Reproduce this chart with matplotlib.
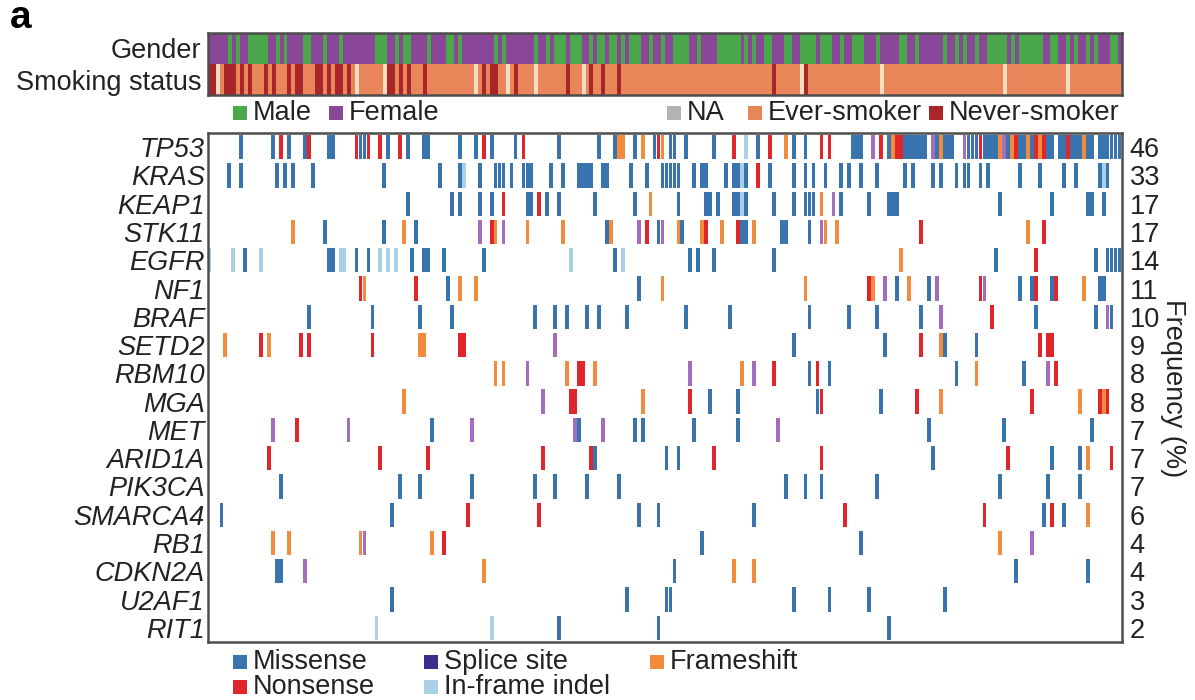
import matplotlib
matplotlib.use("Agg")
import numpy as np
import matplotlib.pyplot as plt
from matplotlib.colors import ListedColormap
from matplotlib.patches import Rectangle

plt.rcParams['font.family'] = ['Liberation Sans', 'DejaVu Sans']

# ---- data ----
n_samples = 230

genes = ['TP53', 'KRAS', 'KEAP1', 'STK11', 'EGFR', 'NF1', 'BRAF', 'SETD2', 'RBM10',
         'MGA', 'MET', 'ARID1A', 'PIK3CA', 'SMARCA4', 'RB1', 'CDKN2A', 'U2AF1', 'RIT1']
freq = [46, 33, 17, 17, 14, 11, 10, 9, 8, 8, 7, 7, 7, 6, 4, 4, 3, 2]

# clinical tracks (sample indices)
male = [5, 7, 10, 11, 12, 13, 14, 17, 19, 24, 25, 29, 33, 42, 43, 44, 47, 49, 50, 55,
        60, 61, 63, 72, 74, 82, 85, 87, 88, 89, 91, 92, 93, 96, 98, 99, 101, 102, 104,
        106, 107, 108, 111, 114, 117, 118, 119, 120, 123, 128, 129, 130, 131, 132, 133,
        135, 137, 140, 141, 145, 146, 149, 150, 151, 152, 154, 155, 156, 159, 162, 163,
        164, 168, 174, 175, 178, 185, 188, 190, 193, 196, 197, 198, 199, 200, 202, 204,
        205, 206, 207, 208, 209, 212, 213, 216, 218, 221, 223, 227, 228]
never_smoker = [0, 1, 4, 5, 6, 8, 10, 14, 16, 20, 22, 23, 27, 28, 30, 32, 33, 35, 45, 46,
                48, 50, 54, 69, 71, 72, 77, 90, 96, 99, 103, 142, 150]
smoking_na = [2, 37, 44, 67, 75, 82, 94, 149, 169, 200, 216]

# mutations per gene: (sample, type)  M missense, N nonsense, S splice, I in-frame, F frameshift
tp53 = [(8, 'M'), (16, 'M'), (18, 'N'), (20, 'M'), (24, 'M'), (25, 'N'), (30, 'M'), (31, 'M'),
        (37, 'N'), (38, 'M'), (39, 'M'), (40, 'N'), (43, 'N'), (45, 'M'), (48, 'N'), (50, 'M'),
        (54, 'M'), (55, 'M'), (63, 'M'), (67, 'M'), (69, 'N'), (71, 'M'), (77, 'M'), (79, 'N'),
        (88, 'M'), (98, 'M'), (102, 'M'), (103, 'F'), (104, 'F'), (107, 'M'), (109, 'F'),
        (112, 'M'), (113, 'N'), (114, 'F'), (116, 'M'), (117, 'M'), (120, 'M'), (127, 'M'),
        (132, 'N'), (135, 'I'), (138, 'M'), (141, 'N'), (145, 'F'), (147, 'M'), (150, 'M'),
        (154, 'N'), (156, 'N'), (162, 'M'), (163, 'M'), (164, 'M'), (167, 'S'), (169, 'N'),
        (171, 'M'), (172, 'F'), (173, 'N'), (174, 'N'), (175, 'M'), (176, 'M'), (177, 'M'),
        (178, 'M'), (179, 'M'), (180, 'M'), (182, 'S'), (183, 'M'), (184, 'F'), (185, 'M'),
        (186, 'M'), (187, 'M'), (190, 'S'), (191, 'M'), (192, 'M'), (193, 'M'), (194, 'N'),
        (195, 'M'), (196, 'M'), (197, 'M'), (198, 'M'), (199, 'F'), (200, 'S'), (201, 'M'),
        (202, 'F'), (203, 'N'), (204, 'M'), (205, 'M'), (206, 'F'), (207, 'M'), (208, 'N'),
        (209, 'F'), (210, 'N'), (211, 'M'), (212, 'M'), (214, 'M'), (215, 'M'), (216, 'N'),
        (217, 'M'), (218, 'M'), (219, 'M'), (220, 'F'), (221, 'M'), (222, 'M'), (224, 'M'),
        (225, 'M'), (226, 'M'), (227, 'M'), (228, 'M'), (229, 'M')]
kras = [(5, 'M'), (8, 'M'), (17, 'M'), (19, 'M'), (21, 'M'), (26, 'M'), (44, 'M'), (58, 'M'),
        (63, 'M'), (64, 'I'), (68, 'M'), (72, 'M'), (73, 'M'), (74, 'M'), (76, 'M'), (79, 'M'),
        (80, 'M'), (81, 'M'), (86, 'M'), (89, 'M'), (93, 'M'), (94, 'M'), (95, 'M'), (96, 'M'),
        (99, 'M'), (100, 'M'), (106, 'M'), (110, 'M'), (114, 'M'), (115, 'M'), (116, 'M'),
        (117, 'M'), (118, 'M'), (122, 'M'), (124, 'M'), (125, 'M'), (130, 'M'), (132, 'M'),
        (133, 'M'), (134, 'I'), (135, 'M'), (138, 'N'), (141, 'M'), (147, 'M'), (150, 'M'),
        (152, 'M'), (155, 'M'), (159, 'M'), (161, 'M'), (164, 'M'), (168, 'M'), (175, 'M'),
        (177, 'M'), (182, 'M'), (184, 'M'), (188, 'M'), (190, 'M'), (191, 'M'), (194, 'M'),
        (196, 'M'), (204, 'M'), (209, 'M'), (215, 'M'), (218, 'M'), (224, 'M'), (225, 'I'),
        (226, 'M')]
keap1 = [(50, 'M'), (61, 'M'), (63, 'M'), (68, 'M'), (71, 'M'), (74, 'N'), (80, 'M'), (81, 'M'),
         (83, 'N'), (85, 'M'), (88, 'M'), (97, 'M'), (107, 'M'), (111, 'F'), (118, 'M'),
         (125, 'M'), (126, 'M'), (128, 'M'), (132, 'M'), (133, 'M'), (134, 'I'), (135, 'M'),
         (142, 'M'), (147, 'M'), (150, 'M'), (151, 'M'), (152, 'M'), (154, 'F'), (157, 'S'),
         (159, 'M'), (166, 'M'), (171, 'M'), (172, 'M'), (173, 'M'), (199, 'M'), (212, 'M'),
         (221, 'M'), (222, 'M'), (225, 'M')]
stk11 = [(21, 'F'), (29, 'M'), (44, 'M'), (49, 'F'), (52, 'M'), (68, 'S'), (71, 'N'), (72, 'F'),
         (74, 'S'), (80, 'F'), (89, 'F'), (100, 'M'), (101, 'F'), (108, 'S'), (110, 'N'),
         (113, 'M'), (114, 'S'), (118, 'F'), (119, 'M'), (124, 'F'), (125, 'N'), (129, 'F'),
         (133, 'N'), (134, 'M'), (135, 'M'), (137, 'F'), (144, 'M'), (145, 'M'), (151, 'M'),
         (154, 'S'), (155, 'F'), (158, 'F'), (179, 'N'), (206, 'F'), (210, 'N')]
egfr = [(0, 'I'), (6, 'I'), (9, 'M'), (13, 'I'), (30, 'M'), (31, 'M'), (33, 'I'), (34, 'I'),
        (37, 'M'), (40, 'M'), (43, 'I'), (45, 'I'), (47, 'I'), (51, 'M'), (54, 'M'), (55, 'M'),
        (59, 'M'), (69, 'M'), (91, 'I'), (102, 'M'), (104, 'I'), (121, 'M'), (123, 'M'),
        (127, 'M'), (142, 'M'), (174, 'F'), (198, 'M'), (208, 'N'), (223, 'M'), (226, 'M'),
        (227, 'M'), (228, 'M'), (229, 'M')]
nf1 = [(38, 'N'), (39, 'F'), (52, 'N'), (60, 'M'), (63, 'F'), (67, 'F'), (108, 'M'), (114, 'F'),
       (150, 'F'), (166, 'N'), (167, 'F'), (170, 'S'), (173, 'M'), (176, 'F'), (181, 'M'),
       (183, 'S'), (194, 'N'), (195, 'S'), (204, 'M'), (207, 'M'), (208, 'N'), (212, 'M'),
       (213, 'N'), (220, 'F'), (224, 'M'), (225, 'M')]
braf = [(25, 'M'), (41, 'M'), (53, 'M'), (61, 'M'), (82, 'M'), (87, 'M'), (90, 'M'), (95, 'M'),
        (98, 'M'), (105, 'M'), (120, 'M'), (131, 'M'), (151, 'M'), (161, 'M'), (168, 'M'),
        (179, 'M'), (184, 'S'), (197, 'N'), (208, 'M'), (223, 'M'), (226, 'S'), (227, 'M')]
setd2 = [(4, 'F'), (13, 'N'), (15, 'F'), (23, 'N'), (25, 'N'), (41, 'N'), (53, 'F'), (54, 'F'),
         (63, 'N'), (64, 'N'), (87, 'S'), (147, 'M'), (170, 'M'), (179, 'N'), (184, 'F'),
         (185, 'M'), (193, 'M'), (209, 'N'), (211, 'N'), (212, 'N')]
rbm10 = [(72, 'F'), (74, 'F'), (80, 'S'), (90, 'F'), (93, 'N'), (94, 'N'), (97, 'F'), (121, 'S'),
         (134, 'F'), (137, 'S'), (142, 'N'), (151, 'M'), (153, 'N'), (156, 'M'), (188, 'M'),
         (193, 'F'), (205, 'M'), (211, 'S'), (213, 'N')]
mga = [(49, 'F'), (84, 'S'), (91, 'N'), (92, 'N'), (109, 'F'), (121, 'N'), (126, 'M'), (133, 'M'),
       (153, 'M'), (154, 'N'), (169, 'M'), (178, 'N'), (184, 'F'), (207, 'N'), (219, 'F'),
       (224, 'N'), (225, 'F'), (226, 'N')]
met = [(16, 'S'), (22, 'N'), (35, 'S'), (56, 'M'), (66, 'S'), (92, 'S'), (93, 'M'), (99, 'S'),
       (107, 'M'), (109, 'M'), (122, 'M'), (133, 'M'), (143, 'S'), (181, 'M'), (200, 'M'),
       (222, 'M')]
arid1a = [(15, 'N'), (43, 'N'), (55, 'N'), (84, 'N'), (96, 'N'), (97, 'M'), (115, 'M'), (118, 'M'),
          (127, 'N'), (154, 'N'), (182, 'M'), (201, 'N'), (212, 'M'), (219, 'M'), (221, 'F'),
          (227, 'N')]
pik3ca = [(18, 'M'), (48, 'M'), (53, 'M'), (66, 'M'), (82, 'M'), (87, 'M'), (95, 'M'), (103, 'M'),
          (145, 'M'), (150, 'M'), (154, 'M'), (168, 'M'), (199, 'M'), (211, 'M'), (219, 'M')]
smarca4 = [(3, 'M'), (46, 'M'), (65, 'N'), (83, 'N'), (108, 'M'), (113, 'M'), (137, 'M'),
           (160, 'N'), (195, 'N'), (210, 'M'), (212, 'N'), (215, 'M'), (221, 'F')]
rb1 = [(16, 'F'), (20, 'F'), (38, 'F'), (39, 'S'), (56, 'F'), (59, 'N'), (124, 'M'), (164, 'M'),
       (199, 'F'), (207, 'S')]
cdkn2a = [(17, 'M'), (18, 'M'), (24, 'S'), (69, 'F'), (117, 'M'), (132, 'F'), (137, 'F'),
          (203, 'M'), (221, 'M')]
u2af1 = [(46, 'M'), (105, 'M'), (115, 'M'), (116, 'M'), (147, 'M'), (156, 'M'), (166, 'M'),
         (185, 'M')]
rit1 = [(42, 'I'), (71, 'I'), (88, 'M'), (113, 'M'), (171, 'M')]

gene_muts = [tp53, kras, keap1, stk11, egfr, nf1, braf, setd2, rbm10,
             mga, met, arid1a, pik3ca, smarca4, rb1, cdkn2a, u2af1, rit1]

# ---- styling ----
mut_colors = {'M': '#3a74ae', 'N': '#e0252b', 'S': '#a56dbd', 'I': '#a9d1e3', 'F': '#f28c3c'}
c_male, c_female = '#4aa84b', '#8b4797'
c_ever, c_never, c_na, c_na_cell = '#e8865a', '#a82529', '#b3b3b3', '#f8dcc0'
frame_col = '#4d4d4d'
txt_col = '#222222'
fs = 19.5

W, H = 1195, 700
fig = plt.figure(figsize=(W / 100, H / 100), dpi=100)


def fx(px):
    return px / W


def fy(py):
    return 1 - py / H


# ---- clinical tracks ----
ax_top = fig.add_axes([fx(208), fy(95), fx(1122) - fx(208), fy(33) - fy(95)])
track = np.zeros((2, n_samples))
track[0, male] = 1
track[1, :] = 2
track[1, never_smoker] = 3
track[1, smoking_na] = 4
cmap = ListedColormap([c_female, c_male, c_ever, c_never, c_na_cell])
ax_top.imshow(track, aspect='auto', cmap=cmap, vmin=-0.5, vmax=4.5, interpolation='nearest')
ax_top.set_xticks([])
ax_top.set_yticks([0, 1])
ax_top.set_yticklabels(['Gender', 'Smoking status'], fontsize=fs, color=txt_col)
ax_top.tick_params(axis='y', length=0, pad=5)
for s in ax_top.spines.values():
    s.set_color(frame_col)
    s.set_linewidth(1.8)

# ---- mutation matrix ----
ax = fig.add_axes([fx(207.5), fy(642), fx(1121.5) - fx(207.5), fy(133) - fy(642)])
for row, muts in enumerate(gene_muts):
    for code in 'MNSIF':
        xs = [i for i, c in muts if c == code]
        if xs:
            ax.bar(xs, 0.86, bottom=row - 0.43, width=0.95, color=mut_colors[code], linewidth=0)
ax.set_xlim(-0.5, n_samples - 0.5)
ax.set_ylim(len(genes) - 0.5, -0.5)
ax.set_xticks([])
ax.set_yticks(range(len(genes)))
ax.set_yticklabels(genes, fontsize=fs, style='italic', color=txt_col)
ax.tick_params(axis='y', length=0, pad=2)
for s in ax.spines.values():
    s.set_color(frame_col)
    s.set_linewidth(1.8)

ax_r = ax.twinx()
ax_r.set_ylim(ax.get_ylim())
ax_r.set_yticks(range(len(genes)))
ax_r.set_yticklabels([str(f) for f in freq], fontsize=fs, color=txt_col)
ax_r.tick_params(axis='y', length=0, pad=6)
for s in ax_r.spines.values():
    s.set_visible(False)

fig.text(fx(1173), fy(388), 'Frequency (%)', rotation=270, fontsize=fs, color=txt_col,
         ha='center', va='center')
fig.text(fx(10), fy(18), 'a', fontsize=28, fontweight='bold', color='black', ha='left', va='center')


# ---- legends ----
def legend_item(px, py, label, color):
    sq = 14
    fig.add_artist(Rectangle((fx(px), fy(py + sq / 2)), sq / W, sq / H,
                             transform=fig.transFigure, color=color, linewidth=0))
    fig.text(fx(px + sq + 6), fy(py), label, fontsize=fs, color=txt_col, ha='left', va='center')


legend_item(233, 113, 'Male', c_male)
legend_item(329, 113, 'Female', c_female)
legend_item(667, 113, 'NA', c_na)
legend_item(748, 113, 'Ever-smoker', c_ever)
legend_item(929, 113, 'Never-smoker', c_never)

legend_item(233, 662, 'Missense', mut_colors['M'])
legend_item(233, 687, 'Nonsense', mut_colors['N'])
legend_item(424, 662, 'Splice site', '#3b2d8a')
legend_item(424, 687, 'In-frame indel', mut_colors['I'])
legend_item(650, 662, 'Frameshift', mut_colors['F'])

fig.savefig('out.png', dpi=100)
